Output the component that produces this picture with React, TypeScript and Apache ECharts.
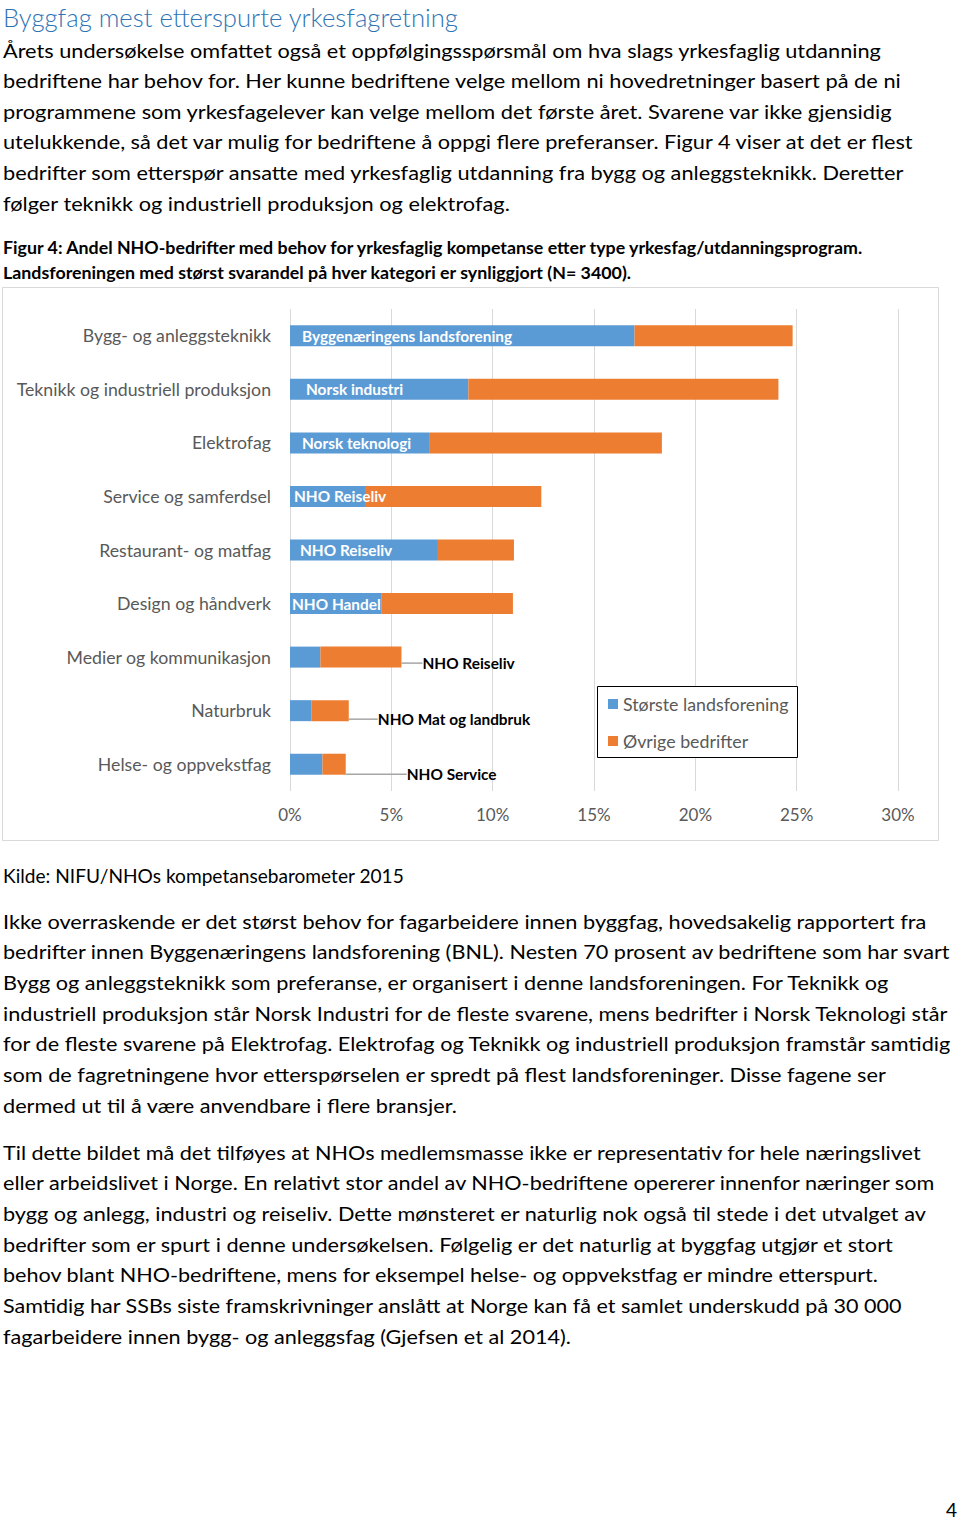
import React, { useEffect, useRef } from "react";
import * as echarts from "echarts";

// ---------- chart data ----------
const categories = [
  "Bygg- og anleggsteknikk",
  "Teknikk og industriell produksjon",
  "Elektrofag",
  "Service og samferdsel",
  "Restaurant- og matfag",
  "Design og håndverk",
  "Medier og kommunikasjon",
  "Naturbruk",
  "Helse- og oppvekstfag",
];
const largestAssociation = [
  "Byggenæringens landsforening",
  "Norsk industri",
  "Norsk teknologi",
  "NHO Reiseliv",
  "NHO Reiseliv",
  "NHO Handel",
  "NHO Reiseliv",
  "NHO Mat og landbruk",
  "NHO Service",
];
const largestShare = [17.0, 8.8, 6.9, 3.7, 7.3, 4.5, 1.5, 1.05, 1.6];
const otherShare = [7.8, 15.3, 11.45, 8.7, 3.75, 6.5, 4.0, 1.85, 1.15];
const seriesNames = ["Største landsforening", "Øvrige bedrifter"];
const xTickStep = 5;
const xMax = 30;

// ---------- page text ----------
const titleText = "Byggfag mest etterspurte yrkesfagretning";
const introLines = [
  "Årets undersøkelse omfattet også et oppfølgingsspørsmål om hva slags yrkesfaglig utdanning",
  "bedriftene har behov for. Her kunne bedriftene velge mellom ni hovedretninger basert på de ni",
  "programmene som yrkesfagelever kan velge mellom det første året. Svarene var ikke gjensidig",
  "utelukkende, så det var mulig for bedriftene å oppgi flere preferanser. Figur 4 viser at det er flest",
  "bedrifter som etterspør ansatte med yrkesfaglig utdanning fra bygg og anleggsteknikk. Deretter",
  "følger teknikk og industriell produksjon og elektrofag.",
];
const captionLines = [
  "Figur 4: Andel NHO-bedrifter med behov for yrkesfaglig kompetanse etter type yrkesfag/utdanningsprogram.",
  "Landsforeningen med størst svarandel på hver kategori er synliggjort (N= 3400).",
];
const sourceText = "Kilde: NIFU/NHOs kompetansebarometer 2015";
const discussionLines = [
  "Ikke overraskende er det størst behov for fagarbeidere innen byggfag, hovedsakelig rapportert fra",
  "bedrifter innen Byggenæringens landsforening (BNL). Nesten 70 prosent av bedriftene som har svart",
  "Bygg og anleggsteknikk som preferanse, er organisert i denne landsforeningen. For Teknikk og",
  "industriell produksjon står Norsk Industri for de fleste svarene, mens bedrifter i Norsk Teknologi står",
  "for de fleste svarene på Elektrofag. Elektrofag og Teknikk og industriell produksjon framstår samtidig",
  "som de fagretningene hvor etterspørselen er spredt på flest landsforeninger. Disse fagene ser",
  "dermed ut til å være anvendbare i flere bransjer.",
];
const contextLines = [
  "Til dette bildet må det tilføyes at NHOs medlemsmasse ikke er representativ for hele næringslivet",
  "eller arbeidslivet i Norge. En relativt stor andel av NHO-bedriftene opererer innenfor næringer som",
  "bygg og anlegg, industri og reiseliv. Dette mønsteret er naturlig nok også til stede i det utvalget av",
  "bedrifter som er spurt i denne undersøkelsen. Følgelig er det naturlig at byggfag utgjør et stort",
  "behov blant NHO-bedriftene, mens for eksempel helse- og oppvekstfag er mindre etterspurt.",
  "Samtidig har SSBs siste framskrivninger anslått at Norge kan få et samlet underskudd på 30 000",
  "fagarbeidere innen bygg- og anleggsfag (Gjefsen et al 2014).",
];
const pageNumber = "4";

// ---------- layout / style ----------
const FONT = 'Lato, "Liberation Sans", sans-serif';
const BLUE = "#5B9BD5";
const ORANGE = "#ED7D31";
const GREY_TEXT = "#595959";

type Block = {
  lines: string[];
  left: number;
  firstY: number;
  step: number;
  size: number;
  weight: number;
  color: string;
  rightEdges: (number | null)[];
};

const blocks: Block[] = [
  { lines: [titleText], left: 3, firstY: 17, step: 0, size: 25, weight: 300, color: "#2E74B5", rightEdges: [459] },
  { lines: introLines, left: 3, firstY: 50, step: 30.6, size: 19.5, weight: 400, color: "#000", rightEdges: [882, 904, 894.5, 917, 905.5, null] },
  { lines: captionLines, left: 3, firstY: 248, step: 25, size: 17, weight: 700, color: "#000", rightEdges: [866, 632] },
  { lines: [sourceText], left: 3, firstY: 875, step: 0, size: 19.5, weight: 400, color: "#000", rightEdges: [404.5] },
  { lines: discussionLines, left: 3, firstY: 921, step: 30.7, size: 19.5, weight: 400, color: "#000", rightEdges: [928, 951.5, 890.5, 950, 952.5, 887, null] },
  { lines: contextLines, left: 3, firstY: 1152, step: 30.7, size: 19.5, weight: 400, color: "#000", rightEdges: [923, 938, 927, 895, 880, 903, null] },
  { lines: [pageNumber], left: 946, firstY: 1509, step: 0, size: 19, weight: 400, color: "#000", rightEdges: [null] },
];

// inside-label padding from bar start (px) and callout offsets for the small bars
const insidePad = [12, 16, 12, 4, 10, 2];
const calloutOffset: Record<number, [number, number]> = { 6: [16, 6], 7: [24, 8.5], 8: [56, 10] };

export default function App() {
  const ref = useRef<HTMLDivElement>(null);

  useEffect(() => {
    if (!ref.current) return;
    const chart = echarts.init(ref.current, null, { renderer: "svg" });

    const canvas = document.createElement("canvas");
    const ctx = canvas.getContext("2d")!;
    const graphics: any[] = [];

    // chart frame
    graphics.push({
      type: "rect",
      z: 0,
      silent: true,
      shape: { x: 2.5, y: 287.5, width: 936, height: 553 },
      style: { fill: "#fff", stroke: "#D9D9D9", lineWidth: 1 },
    });
    // legend frame
    graphics.push({
      type: "rect",
      z: 3,
      silent: true,
      shape: { x: 597.5, y: 686.5, width: 200, height: 71 },
      style: { fill: "#fff", stroke: "#000", lineWidth: 1 },
    });

    blocks.forEach((b) => {
      ctx.font = `${b.weight} ${b.size}px ${FONT}`;
      const scales = b.lines.map((t, i) => {
        const r = b.rightEdges[i];
        if (r == null) return null;
        const w = ctx.measureText(t).width;
        return w > 0 ? (r - b.left) / w : 1;
      });
      const known = scales.filter((s) => s != null) as number[];
      const avg = known.length ? known.reduce((a, c) => a + c, 0) / known.length : 1;
      b.lines.forEach((t, i) => {
        graphics.push({
          type: "text",
          x: b.left,
          y: b.firstY + i * b.step,
          scaleX: scales[i] ?? avg,
          silent: true,
          z: 1,
          style: {
            text: t,
            fill: b.color,
            fontSize: b.size,
            fontWeight: b.weight,
            fontFamily: FONT,
            align: "left",
            textAlign: "left",
            verticalAlign: "middle",
            textVerticalAlign: "middle",
          },
        });
      });
    });

    const option: any = {
      animation: false,
      backgroundColor: "#fff",
      graphic: graphics,
      grid: { left: 290, right: 62, top: 309, bottom: 731, containLabel: false },
      legend: {
        data: seriesNames,
        orient: "vertical",
        left: 608,
        top: 694,
        padding: 0,
        itemWidth: 10,
        itemHeight: 10,
        itemGap: 17,
        icon: "rect",
        selectedMode: false,
        z: 4,
        textStyle: { color: GREY_TEXT, fontSize: 17.8, fontFamily: FONT, lineHeight: 20 },
      },
      xAxis: {
        type: "value",
        min: 0,
        max: xMax,
        interval: xTickStep,
        axisLine: { show: false },
        axisTick: { show: false },
        splitLine: { show: true, lineStyle: { color: "#D9D9D9", width: 1 } },
        axisLabel: {
          formatter: (v: number) => `${v}%`,
          color: GREY_TEXT,
          fontSize: 17,
          fontFamily: FONT,
          margin: 15,
        },
      },
      yAxis: {
        type: "category",
        data: categories,
        inverse: true,
        axisLine: { show: false },
        axisTick: { show: false },
        axisLabel: { color: GREY_TEXT, fontSize: 17.7, fontFamily: FONT, margin: 19 },
      },
      series: [
        {
          name: seriesNames[0],
          type: "bar",
          stack: "total",
          barWidth: 21,
          itemStyle: { color: BLUE },
          label: {
            show: true,
            position: "insideLeft",
            distance: 0,
            color: "#fff",
            fontWeight: "bold",
            fontSize: 15.4,
            fontFamily: FONT,
            formatter: (p: any) => largestAssociation[p.dataIndex],
          },
          data: largestShare.map((v, i) =>
            i < insidePad.length
              ? { value: v, label: { show: true, offset: [insidePad[i], 0] } }
              : { value: v, label: { show: false } }
          ),
        },
        {
          name: seriesNames[1],
          type: "bar",
          stack: "total",
          barWidth: 21,
          itemStyle: { color: ORANGE },
          label: {
            show: false,
            position: "right",
            distance: 5,
            color: "#000",
            fontWeight: "bold",
            fontSize: 15.4,
            fontFamily: FONT,
            formatter: (p: any) => largestAssociation[p.dataIndex],
          },
          labelLine: { show: true, lineStyle: { color: "#A6A6A6", width: 1.5 } },
          labelLayout: (params: any) => {
            const o = calloutOffset[params.dataIndex];
            return o ? { dx: o[0], dy: o[1] } : {};
          },
          data: otherShare.map((v, i) => ({ value: v, label: { show: calloutOffset[i] != null } })),
        },
      ],
    };

    chart.setOption(option);
    return () => chart.dispose();
  }, []);

  return (
    <div
      ref={ref}
      style={{ position: "absolute", left: 0, top: 0, width: 960, height: 1522, background: "#fff" }}
    />
  );
}
